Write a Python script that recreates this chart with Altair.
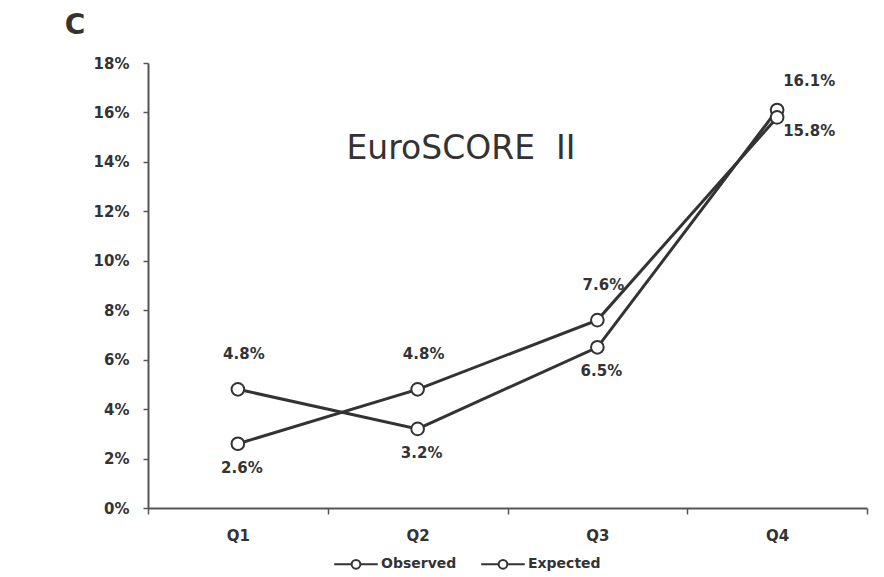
import altair as alt
import pandas as pd

quarters = ["Q1", "Q2", "Q3", "Q4"]
observed = [4.8, 3.2, 6.5, 16.1]
expected = [2.6, 4.8, 7.6, 15.8]
series_names = ["Observed", "Expected"]
y_ticks = [0, 2, 4, 6, 8, 10, 12, 14, 16, 18]

rows = []
for name, vals in zip(series_names, [observed, expected]):
    for q, v in zip(quarters, vals):
        rows.append({"quarter": q, "series": name, "value": v})
df = pd.DataFrame(rows)

INK = "#333333"
FONT = "DejaVu Sans"

x = alt.X("quarter:N", sort=quarters,
          scale=alt.Scale(paddingInner=0, paddingOuter=0),
          axis=alt.Axis(title=None, labelAngle=0, tickBand="extent",
                        domainColor="#555", domainWidth=2, tickColor="#555",
                        tickWidth=1.5, tickSize=6, labelPadding=14,
                        labelFont=FONT, labelFontSize=15, labelFontWeight="bold",
                        labelColor="#333", grid=False))
y = alt.Y("value:Q", scale=alt.Scale(domain=[0, 18], nice=False),
          axis=alt.Axis(title=None, values=y_ticks, labelExpr="datum.value + '%'",
                        domainColor="#555", domainWidth=2, tickColor="#555",
                        tickWidth=1.5, tickSize=5, labelPadding=14,
                        labelFont=FONT, labelFontSize=15, labelFontWeight="bold",
                        labelColor="#333", grid=False))

legend_symbol = ("M-1,0 L-0.2,0 M0.2,0 L1,0 "
                 "M0.2,0 A0.2,0.2 0 1,1 -0.2,0 A0.2,0.2 0 1,1 0.2,0")

color = alt.Color("series:N", sort=series_names,
                  scale=alt.Scale(domain=series_names, range=[INK, INK]),
                  legend=alt.Legend(title=None, orient="none", direction="horizontal",
                                    legendX=185, legendY=478,
                                    symbolType=legend_symbol, symbolSize=1900,
                                    symbolStrokeWidth=2, symbolFillColor="white",
                                    symbolStrokeColor=INK,
                                    labelFont=FONT, labelFontSize=14,
                                    labelFontWeight="bold", labelColor="#333",
                                    columnPadding=20, labelOffset=2))

base = alt.Chart(df).encode(x=x, y=y)

lines = base.mark_line(strokeWidth=3).encode(color=color)
points = base.mark_point(shape="circle", filled=True, fill="white", stroke=INK,
                         strokeWidth=2, size=160, opacity=1).encode(
    detail="series:N")

ranked = base.transform_joinaggregate(
    vmax="max(value)", groupby=["quarter"]
).transform_calculate(lbl="format(datum.value, '.1f') + '%'")
text_kw = dict(font=FONT, fontSize=15, fontWeight="bold", color="#333")
upper = ranked.transform_filter(
    "datum.value == datum.vmax && datum.quarter != 'Q4'"
).mark_text(dx=6, dy=-35, **text_kw).encode(text="lbl:N")
lower = ranked.transform_filter(
    "datum.value != datum.vmax && datum.quarter != 'Q4'"
).mark_text(dx=4, dy=24, **text_kw).encode(text="lbl:N")
upper4 = ranked.transform_filter(
    "datum.value == datum.vmax && datum.quarter == 'Q4'"
).mark_text(align="left", dx=6, dy=-29, **text_kw).encode(text="lbl:N")
lower4 = ranked.transform_filter(
    "datum.value != datum.vmax && datum.quarter == 'Q4'"
).mark_text(align="left", dx=6, dy=14, **text_kw).encode(text="lbl:N")

title_text = alt.Chart(pd.DataFrame({"t": ["EuroSCORE\u00a0\u00a0II"]})).mark_text(
    font=FONT, fontSize=33, color="#333", align="center", baseline="middle"
).encode(x=alt.value(313), y=alt.value(86), text="t:N")

panel_text = alt.Chart(pd.DataFrame({"t": ["C"]})).mark_text(
    font=FONT, fontSize=28, fontWeight="bold", color="#333", align="center",
    baseline="middle"
).encode(x=alt.value(-73), y=alt.value(-37), text="t:N")

chart = alt.layer(lines, points, upper, lower, upper4, lower4,
                  title_text, panel_text).properties(
    width=719, height=445,
    padding={"left": 148, "top": 63, "right": 17, "bottom": 69},
    autosize=alt.AutoSizeParams(type="none"),
    background="white",
).configure_view(stroke=None)

chart.save("out.html", embed_options={"renderer": "svg", "actions": False})
